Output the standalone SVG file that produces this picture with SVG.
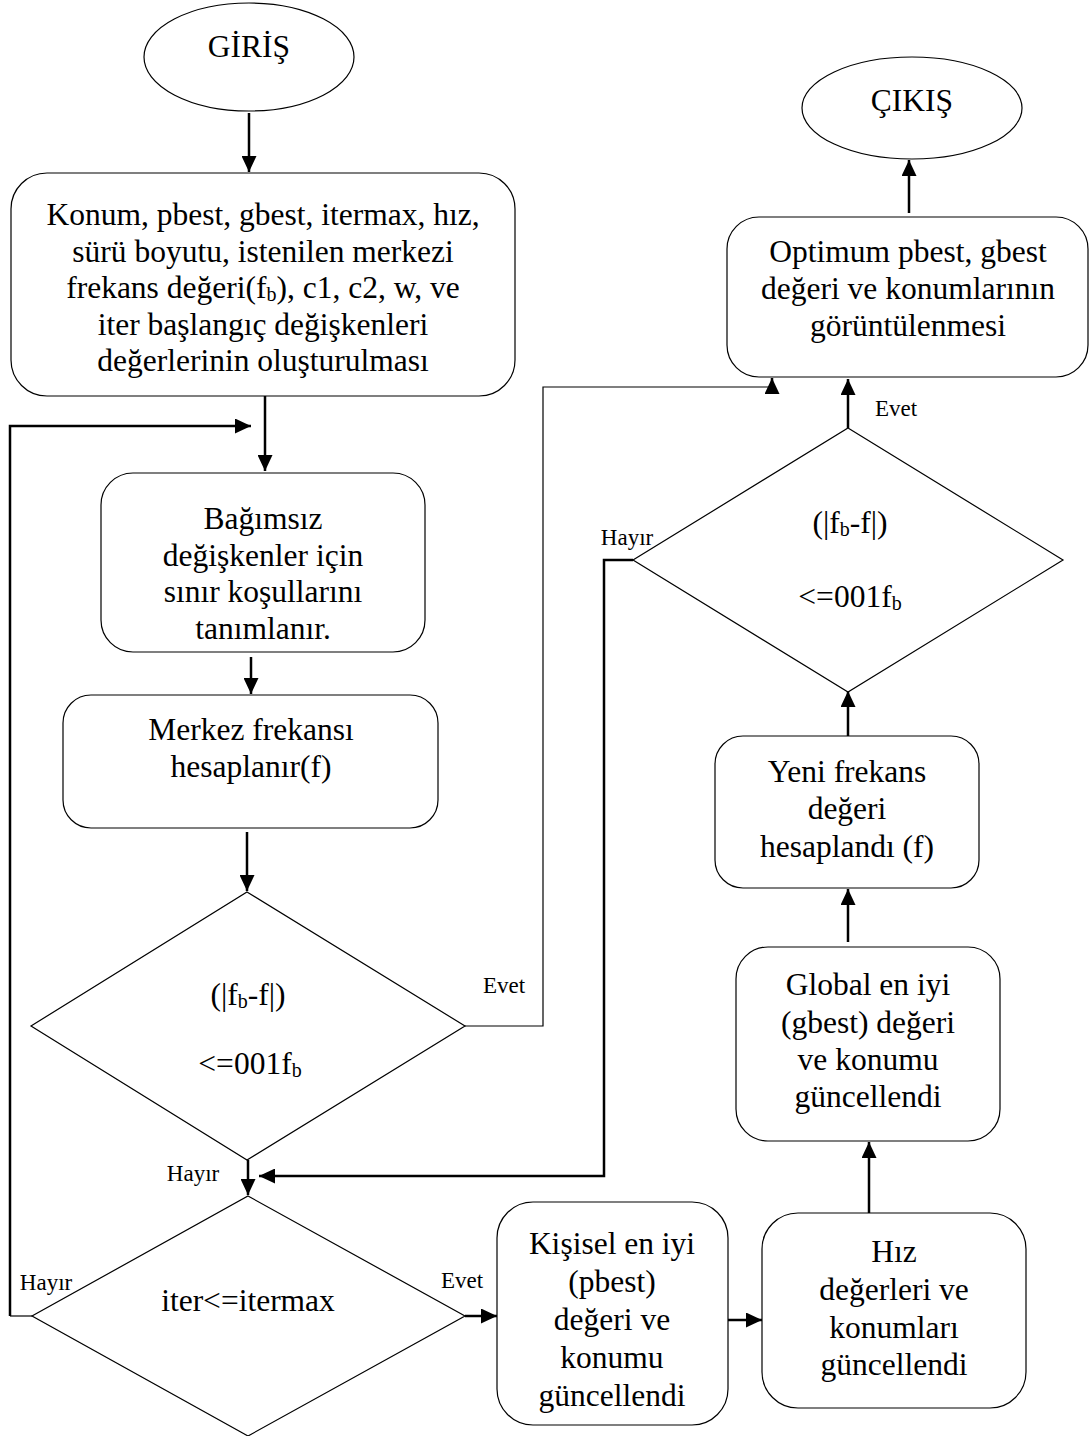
<svg xmlns="http://www.w3.org/2000/svg" width="1089" height="1436" viewBox="0 0 1089 1436">
<style>
.s{fill:#fff;stroke:#000;stroke-width:1.2}
.t{font-family:"Liberation Serif","Times New Roman",serif;font-size:31.5px;text-anchor:middle;fill:#000}
.l{font-family:"Liberation Serif","Times New Roman",serif;font-size:23px;text-anchor:middle;fill:#000}
.c{fill:none;stroke:#000;stroke-width:2.5}
.c1{fill:none;stroke:#000;stroke-width:1.2}
.sub{font-size:20px}
</style>
<defs>
<marker id="a" markerUnits="userSpaceOnUse" markerWidth="17" markerHeight="15" refX="16" refY="7.5" orient="auto">
<path d="M0,0 L16,7.5 L0,15 z" fill="#000"/>
</marker>
</defs>
<rect width="1089" height="1436" fill="#fff"/>
<g id="connectors">
<path class="c" d="M249,113 V172" marker-end="url(#a)"/>
<path class="c" d="M265,396 V471" marker-end="url(#a)"/>
<path class="c" d="M10,1316 V426 H251" marker-end="url(#a)"/>
<path class="c1" d="M10,1316 H32"/>
<path class="c" d="M251,657 V694" marker-end="url(#a)"/>
<path class="c" d="M247,832 V891" marker-end="url(#a)"/>
<path class="c1" d="M465,1026 H543 V387 H772"/>
<path class="c" d="M772,389 V378" marker-end="url(#a)"/>
<path class="c" d="M248,1160 V1195" marker-end="url(#a)"/>
<path class="c" d="M633,560 H604 V1176 H259" marker-end="url(#a)"/>
<path class="c" d="M465,1316 H497" marker-end="url(#a)"/>
<path class="c" d="M728,1320 H762" marker-end="url(#a)"/>
<path class="c" d="M869,1213 V1142" marker-end="url(#a)"/>
<path class="c" d="M848,942 V889" marker-end="url(#a)"/>
<path class="c" d="M848,736 V691" marker-end="url(#a)"/>
<path class="c" d="M848,428 V379" marker-end="url(#a)"/>
<path class="c" d="M909,213 V160" marker-end="url(#a)"/>
<text class="l" x="504" y="993">Evet</text>
<text class="l" x="193" y="1181">Hayır</text>
<text class="l" x="46" y="1290">Hayır</text>
<text class="l" x="462" y="1288">Evet</text>
<text class="l" x="627" y="545">Hayır</text>
<text class="l" x="896" y="416">Evet</text>
</g>
<g id="giris">
<ellipse class="s" cx="249" cy="57" rx="105" ry="54"/>
<text class="t" x="249" y="57">GİRİŞ</text>
</g>
<g id="init">
<rect class="s" x="11" y="173" width="504" height="223" rx="36"/>
<text class="t" x="263" y="225">Konum, pbest, gbest, itermax, hız,</text>
<text class="t" x="263" y="262">sürü boyutu, istenilen merkezi</text>
<text class="t" x="263" y="298">frekans değeri(f<tspan class="sub" dy="3">b</tspan><tspan dy="-3">), c1, c2, w, ve</tspan></text>
<text class="t" x="263" y="335">iter başlangıç değişkenleri</text>
<text class="t" x="263" y="371">değerlerinin oluşturulması</text>
</g>
<g id="sinir">
<rect class="s" x="101" y="473" width="324" height="179" rx="32"/>
<text class="t" x="263" y="529">Bağımsız</text>
<text class="t" x="263" y="566">değişkenler için</text>
<text class="t" x="263" y="602">sınır koşullarını</text>
<text class="t" x="263" y="639">tanımlanır.</text>
</g>
<g id="merkez">
<rect class="s" x="63" y="695" width="375" height="133" rx="28"/>
<text class="t" x="251" y="740">Merkez frekansı</text>
<text class="t" x="251" y="777">hesaplanır(f)</text>
</g>
<g id="karar1">
<polygon class="s" points="247,892 465,1026 247,1160 31,1026"/>
<text class="t" x="248" y="1005">(|f<tspan class="sub" dy="3">b</tspan><tspan dy="-3">-f|)</tspan></text>
<text class="t" x="250" y="1074">&lt;=001f<tspan class="sub" dy="3">b</tspan></text>
</g>
<g id="karar2">
<polygon class="s" points="248,1196 465,1316 248,1436 32,1316"/>
<text class="t" x="248" y="1311">iter&lt;=itermax</text>
</g>
<g id="kisisel">
<rect class="s" x="497" y="1202" width="231" height="223" rx="36"/>
<text class="t" x="612" y="1254">Kişisel en iyi</text>
<text class="t" x="612" y="1292">(pbest)</text>
<text class="t" x="612" y="1330">değeri ve</text>
<text class="t" x="612" y="1368">konumu</text>
<text class="t" x="612" y="1406">güncellendi</text>
</g>
<g id="hiz">
<rect class="s" x="762" y="1213" width="264" height="195" rx="36"/>
<text class="t" x="894" y="1262">Hız</text>
<text class="t" x="894" y="1300">değerleri ve</text>
<text class="t" x="894" y="1338">konumları</text>
<text class="t" x="894" y="1375">güncellendi</text>
</g>
<g id="global">
<rect class="s" x="736" y="947" width="264" height="194" rx="32"/>
<text class="t" x="868" y="995">Global en iyi</text>
<text class="t" x="868" y="1033">(gbest) değeri</text>
<text class="t" x="868" y="1070">ve konumu</text>
<text class="t" x="868" y="1107">güncellendi</text>
</g>
<g id="yeni">
<rect class="s" x="715" y="736" width="264" height="152" rx="28"/>
<text class="t" x="847" y="782">Yeni frekans</text>
<text class="t" x="847" y="819">değeri</text>
<text class="t" x="847" y="857">hesaplandı (f)</text>
</g>
<g id="karar3">
<polygon class="s" points="848,428 1063,560 848,692 633,560"/>
<text class="t" x="850" y="533">(|f<tspan class="sub" dy="3">b</tspan><tspan dy="-3">-f|)</tspan></text>
<text class="t" x="850" y="607">&lt;=001f<tspan class="sub" dy="3">b</tspan></text>
</g>
<g id="optimum">
<rect class="s" x="727" y="217" width="361" height="160" rx="32"/>
<text class="t" x="908" y="262">Optimum pbest, gbest</text>
<text class="t" x="908" y="299">değeri ve konumlarının</text>
<text class="t" x="908" y="336">görüntülenmesi</text>
</g>
<g id="cikis">
<ellipse class="s" cx="912" cy="108" rx="110" ry="51"/>
<text class="t" x="912" y="111">ÇIKIŞ</text>
</g>
</svg>
